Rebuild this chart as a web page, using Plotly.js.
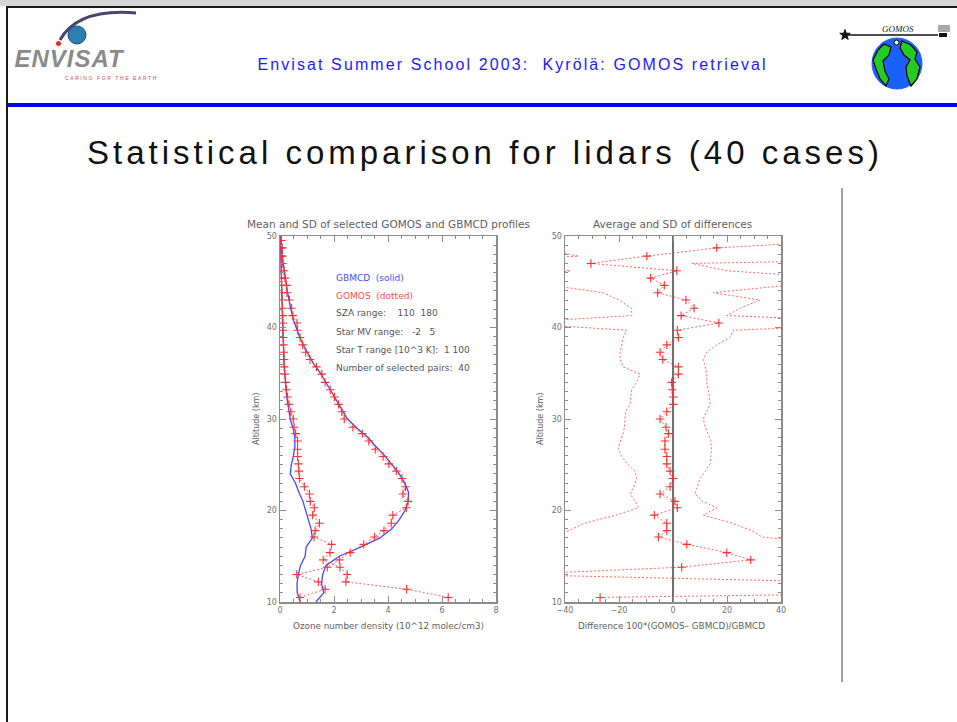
<!DOCTYPE html>
<html><head><meta charset="utf-8">
<script src="https://cdn.plot.ly/plotly-3.0.1.min.js"></script>
<style>html,body{margin:0;padding:0;background:#fff}#chart{width:957px;height:722px}</style>
</head><body><div id="chart"></div>
<script>
// ---- Left panel: GBMCD (solid) on 1 km grid ----
const altGB = [10,11,12,13,14,15,16,17,18,19,20,21,22,23,24,25,26,27,28,29,30,31,32,33,34,35,36,37,38,39,40,41,42,43,44,45,46,47,48,49,50];
const gbMean = [1.33,1.62,1.54,1.58,1.7,2.2,2.98,3.7,4.14,4.42,4.63,4.75,4.76,4.62,4.42,4.15,3.88,3.55,3.25,2.85,2.5,2.3,2.1,1.9,1.68,1.5,1.25,1.06,0.88,0.72,0.6,0.48,0.4,0.33,0.27,0.22,0.16,0.12,0.09,0.06,0.03];
const gbSD = [0.75,0.64,0.63,0.68,0.76,0.93,0.97,1.2,1.15,1.05,0.95,0.85,0.7,0.57,0.38,0.42,0.5,0.55,0.55,0.48,0.38,0.32,0.27,0.23,0.2,0.17,0.15,0.14,0.12,0.11,0.1,0.09,0.08,0.07,0.06,0.05,0.04,0.03,0.03,0.02,0.01];

// ---- GOMOS grid ----
const goAlt = [10.5,11.4,12.2,13.0,13.8,14.6,15.4,16.3,17.1,17.8,18.6,19.5,20.3,21.0,21.8,22.6,23.5,24.3,25.1,25.9,26.7,27.6,28.4,29.1,30.0,30.8,31.6,32.4,33.2,34.0,34.9,35.7,36.5,37.3,38.1,38.9,39.7,40.5,41.3,42.1,43.0,43.8,44.6,45.4,46.2,47.0,47.8,48.7,49.5];
const goMean = [0.74,1.67,1.42,0.62,1.75,2.2,2.6,3.1,3.5,3.85,4.12,4.18,4.68,4.74,4.55,4.65,4.52,4.31,4.03,3.82,3.53,3.29,3.05,2.70,2.38,2.29,2.17,2.02,1.86,1.67,1.55,1.35,1.11,0.95,0.84,0.745,0.65,0.63,0.47,0.43,0.35,0.26,0.24,0.18,0.15,0.084,0.08,0.08,0.05];
const goSD = [6.23,4.69,2.44,2.49,2.22,1.60,1.85,1.91,1.26,1.30,1.46,1.21,1.27,1.12,1.09,0.90,0.72,0.70,0.68,0.65,0.65,0.65,0.58,0.52,0.49,0.40,0.33,0.28,0.24,0.21,0.18,0.16,0.15,0.14,0.13,0.12,0.11,0.11,0.10,0.09,0.08,0.07,0.06,0.06,0.05,0.05,0.04,0.04,0.03];

// ---- Right panel: differences (%) ----
const diffMean = [-27,190,58,-60,3.2,28.8,19.9,5.1,-5.4,-2.3,-2.3,-6.9,1.6,0.7,-4.8,-1.1,-0.1,-1.1,-2.3,-2.3,-3.0,-3.0,-1.7,-2.6,-4.8,-2.3,0.1,0.1,-0.3,-0.5,2.0,2.0,-3.8,-4.8,-2.3,2.0,1.6,17.0,3.0,7.8,4.8,-5.7,-3.2,-8.3,1.4,-30.4,-9.7,16.2,64];
const diffLo = [-377,-210,-242,-260,-57,-71,-60,-55,-46,-38.5,-33,-21,-12.8,-14,-15.9,-14.5,-13.5,-14,-17,-19,-20.3,-19.5,-18.5,-18,-17.8,-17.5,-15.9,-15.5,-15.3,-13.5,-12.2,-18.5,-19.6,-19.6,-19,-18.4,-17.2,-60,-15.3,-15.3,-20,-25.8,-45,-60,-38,-90,-35,-50,-120];
const diffHi = [323,590,358,140,63,129,90,60,33,29.1,22,11.2,16.2,11,8.1,9,10,12,13.7,14,14.3,14,13,12,11.2,12.5,13.7,13.5,13,12.5,12.5,12,11.2,12.5,16.2,21.1,22.3,90,19.9,24.8,32.2,14.9,42,60,20,7,150,80,200];

// ---- tick labels ----
const xTicks1 = [0,2,4,6,8];
const xTicks2 = [-40,-20,0,20,40];
const yTicks = [10,20,30,40,50];

// ---- text ----
const headerText = 'Envisat Summer School 2003:  Kyrölä: GOMOS retrieval';
const slideTitle = 'Statistical comparison for lidars (40 cases)';
const leftTitle = 'Mean and SD of selected GOMOS and GBMCD profiles';
const rightTitle = 'Average and SD of differences';
const leftXTitle = 'Ozone number density (10^12 molec/cm3)';
const rightXTitle = 'Difference 100*(GOMOS– GBMCD)/GBMCD';
const yTitle = 'Altitude (km)';
const nb = '\u00a0';
const infoLines = [
  ['GBMCD'+nb+nb+'(solid)', '#4b4bff'],
  ['GOMOS'+nb+nb+'(dotted)', '#ff4b4b'],
  ['SZA range:'+nb+nb+nb+nb+'110'+nb+nb+'180', '#555'],
  ['Star MV range:'+nb+nb+nb+'-2'+nb+nb+nb+'5', '#555'],
  ['Star T range [10^3 K]:'+nb+nb+'1'+nb+'100', '#555'],
  ['Number of selected pairs:'+nb+nb+'40', '#555']
];

const W = 957, H = 722;
const px = x => x / W, py = y => 1 - y / H;

const RED = 'rgba(255,50,50,0.75)';
const BLUE = '#4646ff';
const redDot = {color: RED, width: 1, dash: '2px,2px'};
const plusMk = {symbol: 'cross-thin', size: 6, line: {color: '#ff3030', width: 1.1}};

const data = [
  {x: gbMean, y: altGB, mode: 'lines', line: {color: BLUE, width: 1.3}, xaxis: 'x', yaxis: 'y'},
  {x: gbSD, y: altGB, mode: 'lines', line: {color: BLUE, width: 1.3}, xaxis: 'x', yaxis: 'y'},
  {x: goMean, y: goAlt, mode: 'lines+markers', line: redDot, marker: plusMk, xaxis: 'x', yaxis: 'y'},
  {x: goSD, y: goAlt, mode: 'lines+markers', line: redDot, marker: plusMk, xaxis: 'x', yaxis: 'y'},
  {x: diffLo, y: goAlt, mode: 'lines', line: redDot, xaxis: 'x2', yaxis: 'y2'},
  {x: diffHi, y: goAlt, mode: 'lines', line: redDot, xaxis: 'x2', yaxis: 'y2'},
  {x: diffMean, y: goAlt, mode: 'lines+markers', line: redDot, marker: plusMk, xaxis: 'x2', yaxis: 'y2'}
];

const tickFont = {family: 'DejaVu Sans', size: 8, color: '#707070'};
const axBase = {
  showline: true, linecolor: '#8c8c8c', linewidth: 1.5, mirror: 'ticks',
  ticks: 'inside', ticklen: 6, tickwidth: 1, tickcolor: '#8c8c8c',
  showgrid: false, zeroline: false, tickfont: tickFont, fixedrange: true
};
const yDom = [py(602), py(236)];

const layout = {
  width: W, height: H, margin: {l: 0, r: 0, t: 0, b: 0},
  paper_bgcolor: '#fff', plot_bgcolor: '#fff', showlegend: false,
  xaxis: Object.assign({}, axBase, {domain: [px(280), px(496)], range: [0, 8], tickvals: xTicks1,
    minor: {dtick: 0.5, ticks: 'inside', ticklen: 3, tickcolor: '#8c8c8c'}, anchor: 'y'}),
  yaxis: Object.assign({}, axBase, {domain: yDom, range: [10, 50], tickvals: yTicks,
    minor: {dtick: 1, ticks: 'inside', ticklen: 3, tickcolor: '#8c8c8c'}, anchor: 'x'}),
  xaxis2: Object.assign({}, axBase, {domain: [px(565), px(781)], range: [-40, 40], tickvals: xTicks2,
    minor: {dtick: 5, ticks: 'inside', ticklen: 3, tickcolor: '#8c8c8c'}, anchor: 'y2',
    zeroline: true, zerolinecolor: '#707070', zerolinewidth: 1.5}),
  yaxis2: Object.assign({}, axBase, {domain: yDom, range: [10, 50], tickvals: yTicks,
    minor: {dtick: 1, ticks: 'inside', ticklen: 3, tickcolor: '#8c8c8c'}, anchor: 'x2'}),
  shapes: [], annotations: []
};

// ---- decorative slide frame & logos ----
function P(pts, close) {
  return pts.map((p, i) => (i ? 'L' : 'M') + px(p[0]).toFixed(5) + ',' + py(p[1]).toFixed(5)).join(' ') + (close ? ' Z' : '');
}
const S = layout.shapes;
const paperShape = o => Object.assign({xref: 'paper', yref: 'paper', layer: 'above'}, o);
S.push(paperShape({type: 'rect', x0: 0, x1: 1, y0: py(6), y1: 1, fillcolor: '#d6d6d6', line: {width: 0}}));
S.push(paperShape({type: 'line', x0: px(6), x1: 1, y0: py(7), y1: py(7), line: {color: '#1a1a1a', width: 2}}));
S.push(paperShape({type: 'line', x0: px(7), x1: px(7), y0: py(7), y1: 0, line: {color: '#1a1a1a', width: 2}}));
S.push(paperShape({type: 'rect', x0: px(8), x1: 1, y0: py(107), y1: py(103), fillcolor: '#0000ff', line: {width: 0}}));
S.push(paperShape({type: 'line', x0: px(842), x1: px(842), y0: py(188), y1: py(682), line: {color: '#a0a0a0', width: 2}}));
// ENVISAT logo
S.push(paperShape({type: 'path', path: 'M' + px(60) + ',' + py(40) + ' Q' + px(78) + ',' + py(8) + ' ' + px(136) + ',' + py(13),
  line: {color: '#4a4470', width: 3}}));
S.push(paperShape({type: 'circle', x0: px(68), x1: px(86), y0: py(44), y1: py(26), fillcolor: '#2c7fb0', line: {color: '#1c4f78', width: 1}}));
S.push(paperShape({type: 'circle', x0: px(56), x1: px(61), y0: py(46), y1: py(41), fillcolor: '#e0301e', line: {width: 0}}));
// GOMOS logo
S.push(paperShape({type: 'line', x0: px(848), x1: px(938), y0: py(35), y1: py(35), line: {color: '#111', width: 1.5}}));
const star = [];
for (let k = 0; k < 10; k++) {
  const r = k % 2 ? 2.2 : 5.5, a = -Math.PI / 2 + k * Math.PI / 5;
  star.push([845 + r * Math.cos(a), 35 + r * Math.sin(a)]);
}
S.push(paperShape({type: 'path', path: P(star, true), fillcolor: '#111', line: {color: '#111', width: 1}}));
S.push(paperShape({type: 'rect', x0: px(938), x1: px(950), y0: py(32), y1: py(25), fillcolor: '#a8a8a8', line: {width: 0}}));
S.push(paperShape({type: 'rect', x0: px(939), x1: px(947), y0: py(37), y1: py(33), fillcolor: '#111', line: {width: 0}}));
S.push(paperShape({type: 'circle', x0: px(872), x1: px(922), y0: py(89), y1: py(38), fillcolor: '#1a62ff', line: {color: '#1a62ff', width: 1}}));
S.push(paperShape({type: 'path', path: P([[878,50],[884,44],[891,47],[889,55],[883,61],[885,71],[889,79],[886,86],[880,79],[876,69],[873,60]], true),
  fillcolor: '#22cc22', line: {color: '#000', width: 1.2}}));
S.push(paperShape({type: 'path', path: P([[902,41],[911,45],[917,52],[915,59],[920,67],[917,79],[911,86],[907,76],[906,67],[910,60],[904,55],[900,48]], true),
  fillcolor: '#22cc22', line: {color: '#000', width: 1.2}}));
S.push(paperShape({type: 'circle', x0: px(894), x1: px(899), y0: py(45), y1: py(40), fillcolor: '#fff', line: {color: '#000', width: 1}}));

// ---- texts ----
const A = layout.annotations;
const ann = (x, y, text, font, o) => A.push(Object.assign({xref: 'paper', yref: 'paper', x: px(x), y: py(y), text: text,
  showarrow: false, font: font, xanchor: 'center', yanchor: 'middle'}, o || {}));
ann(512, 64, headerText, {family: 'Liberation Sans', size: 16, color: '#1a1aff'});
ann(485, 152, slideTitle, {family: 'Liberation Sans', size: 33, color: '#111'});
ann(70, 58, 'ENVISAT', {family: 'Liberation Sans', size: 24, color: '#8a8a8a', style: 'italic', weight: 'bold'});
ann(111, 78, 'CARING FOR THE EARTH', {family: 'Liberation Sans', size: 5, color: '#d04848'});
ann(898, 29, 'GOMOS', {family: 'Liberation Serif', size: 9, color: '#222', style: 'italic'});
const small = c => ({family: 'DejaVu Sans', size: 9, color: c || '#606060'});
ann(388, 224, leftTitle, {family: 'DejaVu Sans', size: 10.5, color: '#606060'});
ann(672, 224, rightTitle, {family: 'DejaVu Sans', size: 10.5, color: '#606060'});
ann(388, 626, leftXTitle, {family: 'DejaVu Sans', size: 8.8, color: '#606060'});
ann(671, 626, rightXTitle, {family: 'DejaVu Sans', size: 8.8, color: '#606060'});
ann(256, 419, yTitle, {family: 'DejaVu Sans', size: 8, color: '#606060'}, {textangle: -90});
ann(540, 419, yTitle, {family: 'DejaVu Sans', size: 8, color: '#606060'}, {textangle: -90});
const infoY = [278, 296, 313, 332, 350, 368];
infoLines.forEach((l, i) => ann(334, infoY[i], l[0], small(l[1]), {xanchor: 'left'}));

Plotly.newPlot('chart', data, layout, {staticPlot: true}).then(() => {
  document.querySelectorAll('.annotation-text').forEach(t => {
    const s = t.textContent;
    if (s.indexOf('Statistical') === 0) t.style.letterSpacing = '4px';
    else if (s.indexOf('Envisat') === 0) t.style.letterSpacing = '2.1px';
    else if (s === 'ENVISAT') t.style.letterSpacing = '1px';
    else if (s.indexOf('CARING') === 0) t.style.letterSpacing = '1.6px';
  });
});
</script>
</body></html>
